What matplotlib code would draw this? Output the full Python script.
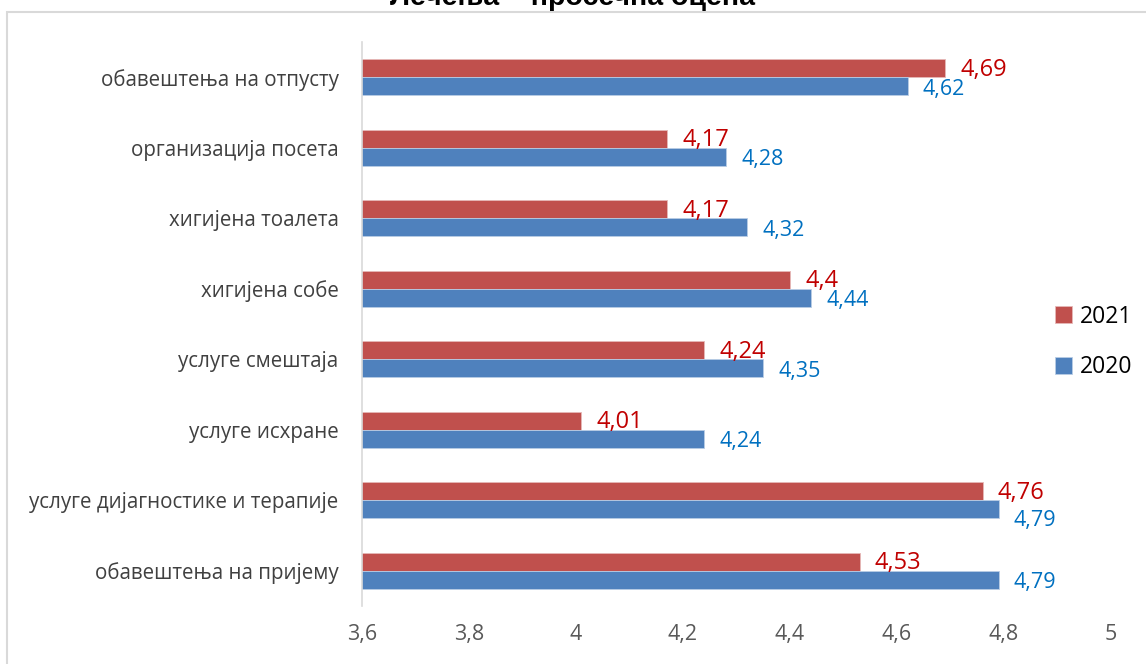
import numpy as np
import matplotlib.pyplot as plt
from matplotlib.patches import Rectangle

# Data (top to bottom as shown)
categories = ["обавештења на отпусту", "организација посета", "хигијена тоалета",
              "хигијена собе", "услуге смештаја", "услуге исхране",
              "услуге дијагностике и терапије", "обавештења на пријему"]
values_2021 = [4.69, 4.17, 4.17, 4.4, 4.24, 4.01, 4.76, 4.53]
values_2020 = [4.62, 4.28, 4.32, 4.44, 4.35, 4.24, 4.79, 4.79]
x_ticks = [3.6, 3.8, 4.0, 4.2, 4.4, 4.6, 4.8, 5.0]
x_tick_labels = ["3,6", "3,8", "4", "4,2", "4,4", "4,6", "4,8", "5"]

RED = "#C0504D"
BLUE = "#4F81BD"
plt.rcParams['font.family'] = ['Open Sans', 'DejaVu Sans']

fig = plt.figure(figsize=(11.46, 6.64), dpi=100)
ax = fig.add_axes([362 / 1146, 58 / 664, 749 / 1146, 564 / 664])

y = np.arange(len(categories))
h = 0.255
ax.barh(y - h / 2, values_2021, height=h, color=RED, edgecolor="#E6B8B7", linewidth=0.6, label="2021")
ax.barh(y + h / 2, values_2020, height=h, color=BLUE, edgecolor="#B9CDE5", linewidth=0.6, label="2020")

ax.set_xlim(3.6, 5.0)
ax.set_ylim(len(categories) - 0.5, -0.5)

# value labels with comma decimals
def fmt(v):
    return ("%g" % v).replace(".", ",")

for yi, v in zip(y, values_2021):
    ax.annotate(fmt(v), (v, yi - h / 2), xytext=(11, -1), textcoords="offset points",
                ha="left", va="center", color="#C00000", fontsize=17)
for yi, v, v21 in zip(y, values_2020, values_2021):
    # push the blue label down when it would collide with the red one
    dy = -8 if abs(v - v21) < 0.08 and v > 4.7 else -2
    ax.annotate(fmt(v), (v, yi + h / 2), xytext=(11, dy), textcoords="offset points",
                ha="left", va="center", color="#0070C0", fontsize=15.5)

ax.set_yticks(y)
ax.set_yticklabels(categories, fontsize=14.8, color="#404040")
ax.set_xticks(x_ticks)
ax.set_xticklabels(x_tick_labels, fontsize=15.5, color="#595959")
ax.tick_params(axis="y", length=0, pad=17)
ax.tick_params(axis="x", length=0, pad=13)

for s in ["top", "right", "bottom"]:
    ax.spines[s].set_visible(False)
ax.spines["left"].set_color("#D9D9D9")
ax.spines["left"].set_linewidth(1.2)

# legend (2021 above 2020)
leg = fig.legend(loc="center left", bbox_to_anchor=(1034 / 1146, 1 - 342 / 664),
                 frameon=False, fontsize=16.5, handlelength=0.75, handleheight=0.75,
                 handletextpad=0.35, labelspacing=1.15)

# title, cut off at the top edge
fig.text(0.5, 1 - 5 / 664, "Лечења – просечна оцена", ha="center", va="baseline",
         fontsize=20.5, fontweight="bold", family=["Liberation Sans", "DejaVu Sans"])

# chart area border
fig.patches.append(Rectangle((7 / 1146, -0.1), 1.2, 1 - 12 / 664 + 0.1,
                             transform=fig.transFigure, fill=False,
                             edgecolor="#D9D9D9", linewidth=1.5))

fig.savefig("out.png", dpi=100)
